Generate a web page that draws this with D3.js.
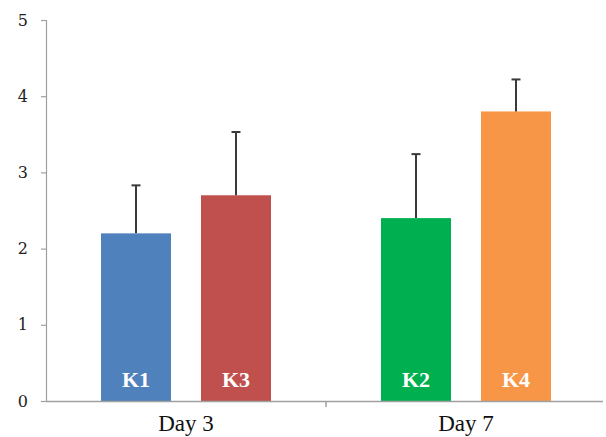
<!DOCTYPE html>
<html><head><meta charset="utf-8">
<script src="https://cdn.jsdelivr.net/npm/d3@7"></script>
<style>body{margin:0;background:#fff}svg{display:block}</style>
</head><body>
<svg id="c" width="606" height="437"></svg>
<script>
const categories = ["Day 3", "Day 7"];
const seriesNames = ["K1", "K3", "K2", "K4"];
const seriesCategory = ["Day 3", "Day 3", "Day 7", "Day 7"];
const seriesSlot = [0, 1, 0, 1];
const values = [2.2, 2.7, 2.4, 3.8];
const errors = [0.63, 0.83, 0.84, 0.42];
const colors = ["#4F81BD", "#C0504D", "#00B050", "#F79646"];
const yTicks = [0, 1, 2, 3, 4, 5];

const svg = d3.select("#c");
const x0 = d3.scaleBand().domain(categories).range([46, 606]).paddingInner(0).paddingOuter(0);
const x1 = d3.scaleBand().domain([0, 1]).range([0, x0.bandwidth()]).paddingInner(0.3).paddingOuter(0.55);
const y = d3.scaleLinear().domain([0, 5]).range([401, 20]);

// y axis
const ya = svg.append("g").attr("transform", "translate(46,0)")
  .call(d3.axisLeft(y).tickValues(yTicks).tickSize(5).tickPadding(13).tickFormat(d3.format("d")));
ya.select(".domain").attr("stroke", "#A0A0A0").attr("stroke-width", 1.2).attr("d", "M0.5,401V20");
ya.selectAll(".tick line").attr("stroke", "#A0A0A0").attr("stroke-width", 1.2);
ya.selectAll(".tick text").attr("fill", "#222").style("font-family", "'DejaVu Serif', serif").style("font-size", "16px");

const bars = seriesNames.map((n, i) => ({n, c: seriesCategory[i], s: seriesSlot[i], v: values[i], e: errors[i], col: colors[i]}));
const g = svg.append("g");
g.selectAll("rect").data(bars).join("rect")
  .attr("x", d => x0(d.c) + x1(d.s))
  .attr("width", x1.bandwidth())
  .attr("y", d => y(d.v))
  .attr("height", d => y(0) - y(d.v))
  .attr("fill", d => d.col);

// error bars
const eb = g.selectAll("g.err").data(bars).join("g").attr("class", "err");
eb.append("line")
  .attr("x1", d => x0(d.c) + x1(d.s) + x1.bandwidth() / 2)
  .attr("x2", d => x0(d.c) + x1(d.s) + x1.bandwidth() / 2)
  .attr("y1", d => y(d.v)).attr("y2", d => y(d.v + d.e))
  .attr("stroke", "#3a3a3a").attr("stroke-width", 2);
eb.append("line")
  .attr("x1", d => x0(d.c) + x1(d.s) + x1.bandwidth() / 2 - 4.5)
  .attr("x2", d => x0(d.c) + x1(d.s) + x1.bandwidth() / 2 + 4.5)
  .attr("y1", d => y(d.v + d.e)).attr("y2", d => y(d.v + d.e))
  .attr("stroke", "#3a3a3a").attr("stroke-width", 2);

// bar labels
g.selectAll("text.lab").data(bars).join("text").attr("class", "lab")
  .attr("x", d => x0(d.c) + x1(d.s) + x1.bandwidth() / 2)
  .attr("y", 387)
  .attr("text-anchor", "middle")
  .attr("fill", "#fff")
  .style("font-family", "'Liberation Serif', 'Times New Roman', serif")
  .style("font-weight", "bold")
  .style("font-size", "22px")
  .text(d => d.n);

// x axis
const xa = svg.append("g").attr("transform", "translate(0,401)")
  .call(d3.axisBottom(x0).tickSize(0).tickPadding(12));
xa.select(".domain").attr("stroke", "#A0A0A0").attr("stroke-width", 1.5).attr("d", "M46,0.5H603");
xa.selectAll(".tick text").attr("fill", "#111").attr("dy", null).attr("y", 30)
  .style("font-family", "'Liberation Serif', 'Times New Roman', serif").style("font-size", "23px");
// category separator tick
xa.append("line").attr("x1", x0("Day 7")).attr("x2", x0("Day 7")).attr("y1", 0).attr("y2", 6)
  .attr("stroke", "#A0A0A0").attr("stroke-width", 1.5);
</script>
</body></html>
